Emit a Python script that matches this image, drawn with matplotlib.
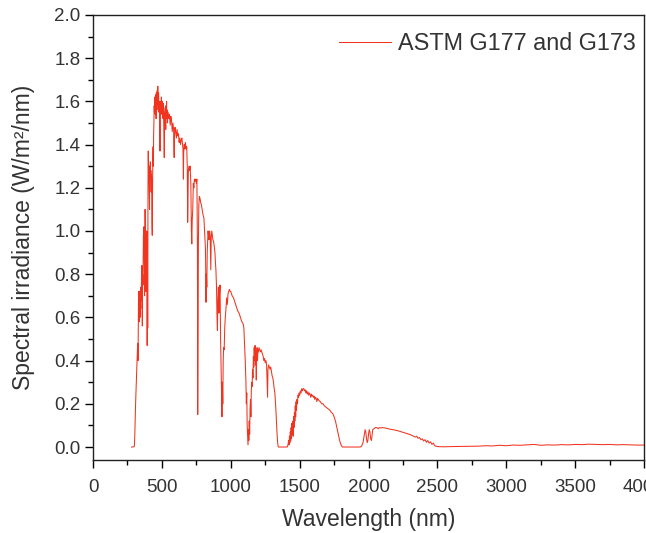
import matplotlib
matplotlib.use("Agg")
import matplotlib.pyplot as plt
from matplotlib.ticker import MultipleLocator

# spectrum (wavelength in nm, irradiance in W/m2/nm)
wavelength_nm = [
    280, 290, 300, 303, 306, 309, 312, 315, 318, 321, 324, 327, 330, 332, 334, 336, 338, 340,
    342, 344, 346, 348, 350, 352, 354, 356, 358, 360, 362, 364, 366, 368, 370, 372, 374, 376,
    378, 380, 382, 384, 386, 388, 390, 392, 393, 395, 397, 399, 401, 403, 405, 407, 410, 412,
    414, 416, 418, 420, 422, 424, 426, 428, 430, 432, 434, 436, 438, 440, 442, 444, 446, 448,
    450, 452, 454, 456, 458, 460, 462, 464, 466, 468, 470, 472, 474, 476, 478, 480, 482, 484,
    486, 488, 490, 492, 494, 496, 498, 500, 502, 504, 506, 508, 510, 512, 514, 516, 517, 518,
    520, 522, 524, 526, 528, 530, 532, 534, 536, 538, 540, 545, 550, 555, 560, 565, 570, 575,
    580, 585, 588, 589, 591, 595, 600, 605, 610, 615, 620, 625, 630, 635, 640, 645, 650, 653,
    656, 658, 662, 666, 670, 675, 680, 684, 687, 689, 692, 696, 700, 705, 710, 714, 717, 720,
    724, 728, 732, 736, 740, 745, 750, 754, 758, 760, 762, 765, 768, 772, 777, 782, 787, 792,
    797, 800, 805, 810, 813, 816, 818, 820, 823, 826, 829, 832, 835, 838, 842, 846, 850, 855,
    858, 862, 866, 870, 875, 880, 885, 888, 892, 896, 900, 903, 906, 910, 914, 918, 922, 926,
    930, 933, 936, 939, 942, 945, 948, 952, 956, 960, 965, 970, 975, 980, 985, 990, 995, 1000,
    1010, 1020, 1030, 1040, 1050, 1060, 1070, 1080, 1090, 1095, 1100, 1105, 1110, 1113, 1116,
    1119, 1122, 1125, 1128, 1131, 1134, 1137, 1140, 1143, 1146, 1149, 1152, 1155, 1158, 1161,
    1164, 1167, 1170, 1173, 1176, 1179, 1182, 1185, 1188, 1191, 1194, 1197, 1200, 1205, 1210,
    1215, 1220, 1225, 1230, 1235, 1240, 1245, 1250, 1255, 1260, 1264, 1267, 1270, 1275, 1280,
    1285, 1290, 1295, 1300, 1305, 1310, 1315, 1320, 1325, 1330, 1335, 1340, 1345, 1360, 1380,
    1400, 1410, 1415, 1420, 1423, 1426, 1429, 1432, 1435, 1438, 1441, 1444, 1447, 1450, 1453,
    1456, 1459, 1462, 1465, 1468, 1471, 1474, 1477, 1480, 1484, 1488, 1492, 1496, 1500, 1505,
    1510, 1515, 1520, 1525, 1530, 1535, 1540, 1545, 1550, 1555, 1560, 1565, 1570, 1575, 1580,
    1585, 1590, 1595, 1600, 1605, 1610, 1615, 1620, 1625, 1630, 1640, 1650, 1660, 1670, 1680,
    1690, 1700, 1710, 1720, 1730, 1740, 1750, 1760, 1770, 1780, 1790, 1800, 1810, 1900, 1940,
    1950, 1960, 1970, 1975, 1980, 1985, 1990, 1995, 2000, 2005, 2010, 2015, 2020, 2025, 2030,
    2040, 2050, 2060, 2070, 2080, 2090, 2100, 2120, 2140, 2160, 2180, 2200, 2220, 2240, 2260,
    2280, 2300, 2320, 2340, 2350, 2360, 2370, 2380, 2390, 2400, 2410, 2420, 2430, 2440, 2450,
    2460, 2470, 2480, 2490, 2500, 2550, 2600, 2700, 2800, 2850, 2900, 2950, 3000, 3050, 3100,
    3150, 3200, 3250, 3300, 3350, 3400, 3450, 3500, 3550, 3600, 3650, 3700, 3750, 3800, 3850,
    3900, 3950, 4000,
]
irradiance = [
    0.000, 0.000, 0.002, 0.05, 0.13, 0.20, 0.26, 0.33, 0.37, 0.42, 0.48, 0.40, 0.68, 0.72, 0.62, 0.58, 0.66, 0.72,
    0.60, 0.70, 0.64, 0.74, 0.68, 0.79, 0.84, 0.70, 0.56, 0.80, 0.75, 0.86, 0.98, 0.90, 1.02, 0.88, 0.70, 0.95,
    1.10, 1.00, 0.75, 0.72, 0.90, 0.85, 1.00, 0.80, 0.47, 0.90, 0.55, 1.20, 1.37, 1.25, 1.30, 1.22, 1.10, 1.30,
    1.26, 1.32, 1.24, 1.28, 1.18, 1.26, 1.22, 1.04, 0.98, 1.20, 1.32, 1.39, 1.30, 1.45, 1.50, 1.58, 1.55, 1.62,
    1.60, 1.54, 1.63, 1.58, 1.52, 1.64, 1.60, 1.56, 1.65, 1.61, 1.67, 1.62, 1.58, 1.64, 1.55, 1.60, 1.58, 1.50,
    1.37, 1.52, 1.56, 1.60, 1.55, 1.62, 1.58, 1.54, 1.60, 1.56, 1.58, 1.52, 1.59, 1.55, 1.48, 1.40, 1.34, 1.42,
    1.55, 1.50, 1.57, 1.52, 1.47, 1.58, 1.55, 1.60, 1.52, 1.56, 1.50, 1.55, 1.52, 1.54, 1.49, 1.53, 1.51, 1.46,
    1.50, 1.47, 1.38, 1.34, 1.44, 1.48, 1.46, 1.43, 1.47, 1.44, 1.45, 1.41, 1.43, 1.40, 1.42, 1.43, 1.40, 1.38,
    1.24, 1.36, 1.40, 1.38, 1.41, 1.38, 1.39, 1.30, 1.04, 1.12, 1.28, 1.30, 1.28, 1.30, 1.22, 1.00, 0.94, 1.05,
    1.10, 1.22, 1.20, 1.24, 1.23, 1.24, 1.22, 1.24, 0.90, 0.15, 0.45, 0.95, 1.12, 1.16, 1.15, 1.13, 1.12, 1.10,
    1.08, 1.07, 1.06, 1.00, 0.97, 0.92, 0.82, 0.67, 0.80, 0.74, 0.90, 0.95, 1.00, 0.98, 0.96, 1.00, 0.98, 0.82,
    0.97, 1.00, 0.98, 0.96, 0.95, 0.93, 0.90, 0.86, 0.82, 0.75, 0.60, 0.54, 0.68, 0.74, 0.62, 0.70, 0.75, 0.50,
    0.35, 0.22, 0.14, 0.30, 0.20, 0.40, 0.46, 0.45, 0.55, 0.60, 0.64, 0.69, 0.66, 0.71, 0.72, 0.73, 0.72, 0.72,
    0.70, 0.69, 0.67, 0.65, 0.63, 0.62, 0.60, 0.58, 0.57, 0.55, 0.48, 0.40, 0.30, 0.20, 0.25,
    0.10, 0.05, 0.01, 0.08, 0.03, 0.12, 0.06, 0.18, 0.22, 0.14, 0.26, 0.30, 0.28, 0.36, 0.32,
    0.42, 0.37, 0.46, 0.40, 0.47, 0.38, 0.44, 0.31, 0.43, 0.46, 0.40, 0.45, 0.44, 0.46, 0.45,
    0.44, 0.45, 0.44, 0.43, 0.42, 0.40, 0.41, 0.39, 0.40, 0.38, 0.30, 0.23, 0.36, 0.38, 0.37,
    0.36, 0.37, 0.35, 0.33, 0.32, 0.30, 0.27, 0.25, 0.20, 0.14, 0.07, 0.02, 0.00, 0.00, 0.00,
    0.00, 0.00, 0.01, 0.03, 0.01, 0.05, 0.02, 0.07, 0.03, 0.09, 0.04, 0.11, 0.06, 0.12, 0.05,
    0.14, 0.09, 0.16, 0.12, 0.19, 0.14, 0.21, 0.17, 0.22, 0.20, 0.24, 0.23, 0.25, 0.24, 0.26,
    0.25, 0.27, 0.26, 0.27, 0.27, 0.26, 0.265, 0.25, 0.26, 0.245, 0.255, 0.24, 0.25, 0.245, 0.23,
    0.245, 0.235, 0.24, 0.23, 0.235, 0.22, 0.23, 0.225, 0.21, 0.225, 0.215, 0.21, 0.20, 0.20, 0.19,
    0.185, 0.18, 0.175, 0.17, 0.16, 0.155, 0.14, 0.12, 0.09, 0.06, 0.03, 0.01, 0.00, 0.00, 0.00,
    0.005, 0.02, 0.06, 0.08, 0.07, 0.04, 0.02, 0.03, 0.06, 0.08, 0.07, 0.04, 0.03, 0.05, 0.08,
    0.085, 0.09, 0.09, 0.085, 0.09, 0.088, 0.09, 0.088, 0.085, 0.082, 0.08, 0.077, 0.074, 0.07, 0.066,
    0.062, 0.058, 0.052, 0.046, 0.050, 0.040, 0.044, 0.034, 0.038, 0.028, 0.034, 0.022, 0.030, 0.018, 0.024,
    0.012, 0.018, 0.006, 0.004, 0.002, 0.001, 0.002, 0.003, 0.004, 0.006, 0.005, 0.008, 0.006, 0.009, 0.008,
    0.010, 0.012, 0.008, 0.010, 0.009, 0.011, 0.010, 0.012, 0.011, 0.013, 0.012, 0.011, 0.012, 0.010, 0.011,
    0.010, 0.009, 0.009,
]

plt.rcParams['font.family'] = ['Liberation Sans', 'DejaVu Sans']
text_color = '#333333'

fig = plt.figure(figsize=(6.46, 5.33), dpi=100)
ax = fig.add_axes([0.144, 0.137, 0.853, 0.835])

ax.plot(wavelength_nm, irradiance, color='#F0341F', linewidth=0.75,
        label='ASTM G177 and G173')

ax.set_xlim(0, 4000)
ax.set_ylim(-0.06, 2.0)
ax.xaxis.set_major_locator(MultipleLocator(500))
ax.xaxis.set_minor_locator(MultipleLocator(250))
ax.yaxis.set_major_locator(MultipleLocator(0.2))
ax.yaxis.set_minor_locator(MultipleLocator(0.1))
ax.yaxis.set_major_formatter(plt.FormatStrFormatter('%.1f'))

ax.tick_params(which='major', direction='out', length=6, width=1.0,
               labelsize=13.5, labelcolor=text_color, pad=3)
ax.tick_params(which='minor', direction='out', length=3.5, width=1.0)
ax.tick_params(axis='x', which='major', pad=8)
for s in ax.spines.values():
    s.set_linewidth(1.0)
    s.set_color('#222222')

ax.set_xlabel('Wavelength (nm)', fontsize=16.5, color=text_color, labelpad=8)
ax.set_ylabel('Spectral irradiance (W/m²/nm)', fontsize=16.5, color=text_color, labelpad=14)

leg = ax.legend(loc='upper right', bbox_to_anchor=(1.0, 0.98), frameon=False,
                fontsize=16.8, handlelength=2.25, handletextpad=0.3,
                borderaxespad=0.0, borderpad=0.35)
for t in leg.get_texts():
    t.set_color(text_color)

fig.savefig('out.png', dpi=100)
